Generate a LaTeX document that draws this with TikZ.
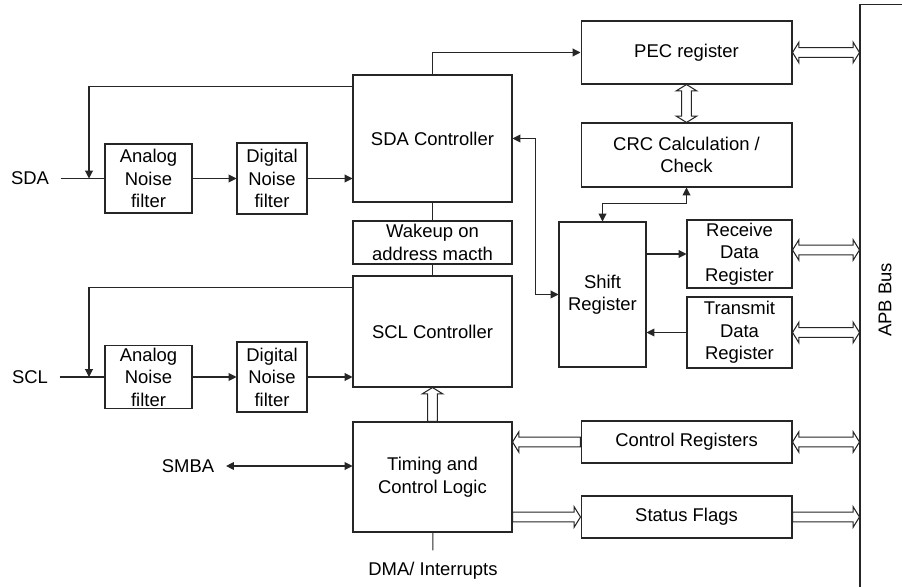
\documentclass[tikz,border=0pt]{standalone}
\usepackage{fontspec}
\setmainfont{Liberation Sans}
\usetikzlibrary{positioning,arrows.meta,calc}
\tikzset{every picture/.style={line width=0.6pt}}
\tikzset{
  icbox/.style  ={rectangle, draw=black!85, align=center, inner sep=1pt,
                  font=\fontsize{10.5}{12.8}\selectfont},
  iclbl/.style  ={inner sep=6.5pt, font=\fontsize{10.5}{12.8}\selectfont},
  icline/.style ={black!85},
  icwire/.style ={-{Triangle[length=4.5pt,width=4.5pt]}, black!85},
  icboth/.style ={{Triangle[length=4.5pt,width=4.5pt]}-{Triangle[length=4.5pt,width=4.5pt]}, black!85},
  % wide open arrow, one head
  icbus/.style  ={draw=black!85, fill=white, to path={let \p1=(\tikztostart), \p2=(\tikztotarget) in
      ($(\p1)!2.8pt!90:(\p2)$) -- ($(\p2)!3.6pt!(\p1)!2.8pt!90:(\p2)$)
      -- ($(\p2)!3.6pt!(\p1)!5.8pt!90:(\p2)$) -- (\p2)
      -- ($(\p2)!3.6pt!(\p1)!5.8pt!-90:(\p2)$) -- ($(\p2)!3.6pt!(\p1)!2.8pt!-90:(\p2)$)
      -- ($(\p1)!2.8pt!-90:(\p2)$) -- cycle}},
  % wide open arrow, two heads
  icbus2/.style ={draw=black!85, fill=white, to path={let \p1=(\tikztostart), \p2=(\tikztotarget) in
      (\p1) -- ($(\p1)!3.6pt!(\p2)!5.8pt!90:(\p2)$) -- ($(\p1)!3.6pt!(\p2)!2.8pt!90:(\p2)$)
      -- ($(\p2)!3.6pt!(\p1)!2.8pt!90:(\p2)$) -- ($(\p2)!3.6pt!(\p1)!5.8pt!90:(\p2)$) -- (\p2)
      -- ($(\p2)!3.6pt!(\p1)!5.8pt!-90:(\p2)$) -- ($(\p2)!3.6pt!(\p1)!2.8pt!-90:(\p2)$)
      -- ($(\p1)!3.6pt!(\p2)!2.8pt!-90:(\p2)$) -- ($(\p1)!3.6pt!(\p2)!5.8pt!-90:(\p2)$) -- cycle}},
}

\begin{document}
\begin{tikzpicture}[x=0.02cm, y=-0.02cm]
    \useasboundingbox (0,0) rectangle (902,587);
    \clip (0,0) rectangle (902,587);
    % central column
    \node[icbox, minimum width=3.18cm, minimum height=2.54cm] (sdactl) at (432.5,138.5) {SDA Controller};
    \node[icbox, minimum width=3.18cm, minimum height=0.86cm] (wake) at (432.5,242.5) {Wakeup on\\address macth};
    \node[icbox, minimum width=3.18cm, minimum height=2.22cm] (sclctl) at (432.5,331.5) {SCL Controller};
    \node[icbox, minimum width=3.18cm, minimum height=2.20cm] (timing) at (432.5,477) {Timing and\\Control Logic};
    % input filters
    \node[iclbl] (sda) at (30,178.5) {SDA};
    \node[icbox, minimum width=1.74cm, minimum height=1.38cm] (anasda) at (148.5,178.5) {Analog\\Noise\\filter};
    \node[icbox, minimum width=1.40cm, minimum height=1.42cm] (digsda) at (272,178.5) {Digital\\Noise\\filter};
    \node[iclbl] (scl) at (30,377) {SCL};
    \node[icbox, minimum width=1.74cm, minimum height=1.26cm] (anascl) at (148.5,377) {Analog\\Noise\\filter};
    \node[icbox, minimum width=1.40cm, minimum height=1.40cm] (digscl) at (272,377) {Digital\\Noise\\filter};
    \coordinate (sdatap) at (89,178.5);
    \coordinate (scltap) at (89,377);
    \node[iclbl] (smba) at (188,466) {SMBA};
    \node[iclbl] (dma) at (433,571) {DMA/ Interrupts};
    % registers
    \node[icbox, minimum width=4.22cm, minimum height=1.26cm] (pec) at (686.5,52.5) {PEC register};
    \node[icbox, minimum width=4.22cm, minimum height=1.28cm] (crc) at (686.5,155) {CRC Calculation /\\Check};
    \node[icbox, minimum width=1.74cm, minimum height=2.90cm] (shift) at (602.5,294.5) {Shift\\Register};
    \node[icbox, minimum width=2.10cm, minimum height=1.36cm] (rx) at (739.5,254) {Receive\\Data\\Register};
    \node[icbox, minimum width=2.10cm, minimum height=1.42cm] (tx) at (739.5,332.5) {Transmit\\Data\\Register};
    \node[icbox, minimum width=4.22cm, minimum height=0.84cm] (ctrl) at (686.5,442) {Control Registers};
    \node[icbox, minimum width=4.22cm, minimum height=0.84cm] (stat) at (686.5,517) {Status Flags};
    % APB bus
    \node[icbox, minimum width=1.6cm, minimum height=12.32cm] (bus) at (900,312) {};
    \node[iclbl, rotate=90] (buslbl) at (885,300) {APB Bus};

    % SDA path
    \draw[icline] (sda) -- (anasda);
    \draw[icwire] (anasda) -- (digsda);
    \draw[icwire] (digsda) -- (digsda -| sdactl.west);
    \draw[icwire] (sdactl.north west) ++(0,12) -| (sdatap);
    % SCL path
    \draw[icline] (scl) -- (anascl);
    \draw[icwire] (anascl) -- (digscl);
    \draw[icwire] (digscl) -- (digscl -| sclctl.west);
    \draw[icwire] (sclctl.north west) ++(0,12) -| (scltap);
    % controller links
    \draw[icline] (sdactl) -- (wake);
    \draw[icline] (wake) -- (sclctl);
    \draw[icwire] (sdactl.north) |- (pec.west);
    \draw[icboth] (sdactl.east) -- ++(23,0) |- (shift.west);
    \draw[icboth] (crc.south) -- ++(0,16) -| (shift.north);
    \draw[icwire] (shift.east |- rx.west) -- (rx.west);
    \draw[icwire] (tx.west) -- (tx.west -| shift.east);
    \draw[icboth] (smba) -- (smba -| timing.west);
    \draw[icline] (timing) -- (dma);
    % wide buses
    \draw[icbus2] (pec.south) to (crc.north);
    \draw[icbus] (timing.north) to (sclctl.south);
    \draw[icbus] (ctrl.west) to (ctrl.west -| timing.east);
    \draw[icbus] (timing.east |- stat.west) to (stat.west);
    \draw[icbus2] (pec.east) to (pec.east -| bus.west);
    \draw[icbus2] ([yshift=0.08cm]rx.east) to ([yshift=0.08cm]rx.east -| bus.west);
    \draw[icbus2] (tx.east) to (tx.east -| bus.west);
    \draw[icbus2] (ctrl.east) to (ctrl.east -| bus.west);
    \draw[icbus] (stat.east) to (stat.east -| bus.west);
\end{tikzpicture}
\end{document}
